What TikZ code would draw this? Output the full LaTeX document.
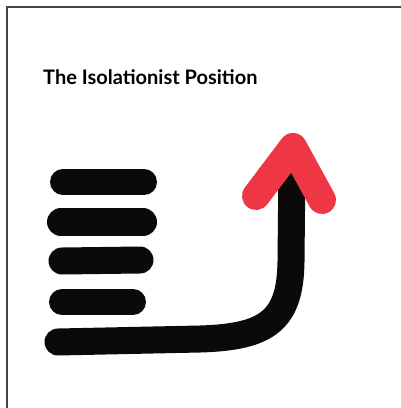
\documentclass[tikz,border=0pt]{standalone}
\usepackage{fontspec}
\setmainfont{Lato}
\definecolor{inkblack}{HTML}{0A0A0A}
\definecolor{inkred}{HTML}{EE3645}
\definecolor{frame}{HTML}{444444}
\begin{document}
\begin{tikzpicture}[x=1pt,y=-1pt,
  stroke/.style={line cap=round,line join=round,draw=inkblack},
  headstroke/.style={line cap=round,line join=round,draw=inkred,line width=28pt}]
\useasboundingbox (0,0) rectangle (401,408);
\fill[white] (0,0) rectangle (401,408);
\draw[frame,line width=1.5pt] (7,410) -- (7,7) -- (403,7);
\node[anchor=base west,inner sep=0pt,font=\fontsize{20}{24}\selectfont\bfseries] (title) at (43,84) {The Isolationist Position};
\draw[stroke,line width=26pt] (63,182) -- (144,182);
\draw[stroke,line width=28pt] (61,222) -- (143,222);
\draw[stroke,line width=27pt] (62,261) -- (140,260);
\draw[stroke,line width=26pt] (62,302) -- (133,302);
\coordinate (s0) at (58,342);
\coordinate (s1) at (200,339);
\coordinate (s2) at (291,262);
\coordinate (s3) at (292,160);
\draw[stroke,line width=27pt] (s0) -- (s1) .. controls (268,337) and (290,320) .. (s2) -- (s3);
\coordinate (hl) at (256,196);
\coordinate (ha) at (293,147);
\coordinate (hr) at (322,200);
\draw[headstroke] (hl) -- (ha) -- (hr);
\end{tikzpicture}
\end{document}
